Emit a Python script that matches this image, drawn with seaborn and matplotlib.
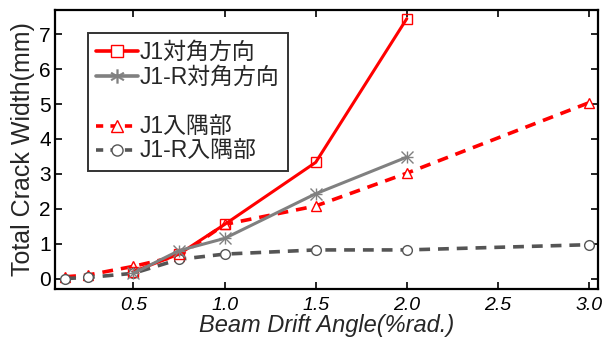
import matplotlib
matplotlib.use("Agg")
import matplotlib.pyplot as plt
import seaborn as sns
import pandas as pd
from matplotlib.lines import Line2D

sns.set_theme(style="ticks")
plt.rcParams['font.family'] = ['Liberation Sans', 'Noto Sans CJK JP', 'DejaVu Sans']

# Data
x_diag = [0.5, 0.75, 1.0, 1.5, 2.0]
j1_diag = [0.2, 0.7, 1.55, 3.33, 7.45]
j1r_diag = [0.15, 0.8, 1.15, 2.43, 3.48]

x_corner = [0.125, 0.25, 0.5, 0.75, 1.0, 1.5, 2.0, 3.0]
j1_corner = [0.05, 0.1, 0.35, 0.65, 1.55, 2.08, 3.02, 5.04]
j1r_corner = [0.0, 0.03, 0.15, 0.55, 0.7, 0.82, 0.82, 0.97]

labels = ["J1対角方向", "J1-R対角方向", "J1入隅部", "J1-R入隅部"]
xticks = [0.5, 1.0, 1.5, 2.0, 2.5, 3.0]
xticklabels = ["0.5", "1.0", "1.5", "2.0", "2.5", "3.0"]
yticks = [0, 1, 2, 3, 4, 5, 6, 7]

fig = plt.figure(figsize=(6.06, 3.42), dpi=100)
ax = fig.add_axes([0.091, 0.155, 0.896, 0.816])

red = "#ff0000"
gray = "#808080"
dgray = "#555555"

sns.lineplot(x=x_corner, y=j1_corner, ax=ax, color=red, lw=2.6, linestyle=(0, (3, 2.2)),
             marker="^", markersize=7, markerfacecolor="white", markeredgecolor=red,
             markeredgewidth=1.0)
sns.lineplot(x=x_corner, y=j1r_corner, ax=ax, color=dgray, lw=2.6, linestyle=(0, (3, 2.2)),
             marker="o", markersize=7, markerfacecolor="white", markeredgecolor=dgray,
             markeredgewidth=1.0)
sns.lineplot(x=x_diag, y=j1_diag, ax=ax, color=red, lw=2.2, linestyle="-",
             marker="s", markersize=7, markerfacecolor="none", markeredgecolor=red,
             markeredgewidth=1.0)
sns.lineplot(x=x_diag, y=j1r_diag, ax=ax, color=gray, lw=2.2, linestyle="-",
             marker="x", markersize=8, markeredgecolor=gray, markeredgewidth=1.0)
# asterisk extra stroke
sns.lineplot(x=x_diag, y=j1r_diag, ax=ax, color=gray, lw=0,
             marker="+", markersize=9, markeredgecolor=gray, markeredgewidth=1.0)

ax.set_xlim(0.07, 3.05)
ax.set_ylim(-0.3, 7.7)
ax.set_xticks(xticks)
ax.set_xticklabels(xticklabels, fontstyle="italic")
ax.set_yticks(yticks)
ax.tick_params(direction="in", top=True, right=True, length=5, width=1.2,
               colors="black")
ax.tick_params(axis="x", labelsize=14, pad=6)
ax.tick_params(axis="y", labelsize=15, pad=3)
for sp in ax.spines.values():
    sp.set_linewidth(1.6)
    sp.set_color("black")
ax.set_xlabel("Beam Drift Angle(%rad.)", fontsize=17, fontstyle="italic", labelpad=0)
ax.set_ylabel("Total Crack Width(mm)", fontsize=18, labelpad=3)

h1 = Line2D([], [], color=red, lw=2.6, marker="s", markersize=8,
            markerfacecolor="white", markeredgecolor=red, markeredgewidth=1.0)
h2 = Line2D([], [], color=gray, lw=2.6, marker="$*$", markersize=10,
            markeredgecolor=gray, markerfacecolor=gray, markeredgewidth=0.3)
hb = Line2D([], [], lw=0)
h3 = Line2D([], [], color=red, lw=2.6, linestyle=(0, (2, 2)), marker="^", markersize=8,
            markerfacecolor="white", markeredgecolor=red, markeredgewidth=1.0)
h4 = Line2D([], [], color=dgray, lw=2.6, linestyle=(0, (2, 2)), marker="o", markersize=8,
            markerfacecolor="white", markeredgecolor=dgray, markeredgewidth=1.0)
leg = ax.legend([h1, h2, hb, h3, h4], [labels[0], labels[1], "", labels[2], labels[3]],
                loc="upper left", bbox_to_anchor=(0.061, 0.917), fontsize=16.5,
                frameon=True, fancybox=False, edgecolor="black", handlelength=1.8,
                handletextpad=0.1, labelspacing=0.08, borderpad=0.35, borderaxespad=0)
leg.get_frame().set_linewidth(1.4)

fig.savefig("out.png", dpi=100)
